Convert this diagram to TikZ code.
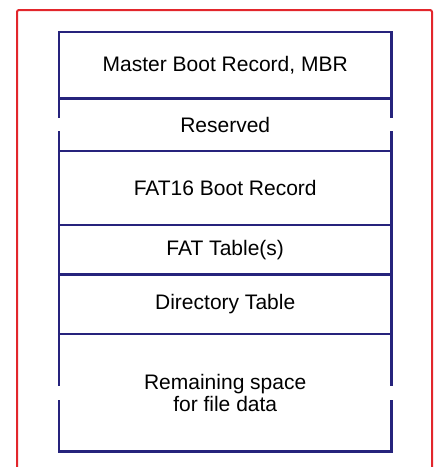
\documentclass[tikz,border=0pt]{standalone}
\usepackage{fontspec}
\setmainfont{Liberation Sans}
\usetikzlibrary{positioning}
\definecolor{frameRed}{HTML}{E2262C}
\definecolor{boxBlue}{HTML}{26237C}

\begin{document}
\begin{tikzpicture}[x=1pt,y=1pt,
  part/.style={minimum width=332pt,inner sep=0pt,align=center,font=\fontsize{21}{22}\selectfont},
  rule/.style={boxBlue,line width=2.4pt,line cap=rect}]
  \useasboundingbox (0,0) rectangle (437,-467);
  % outer frame, open at the bottom
  \draw[frameRed,line width=2pt,rounded corners=2pt] (17,-467) -- (17,-10) -- (432,-10) -- (432,-467);
  \node[part,minimum height=66pt,anchor=north west] (mbr) at (59,-32) {Master Boot Record, MBR};
  \node[part,minimum height=52pt,below=0pt of mbr] (res) {Reserved};
  \node[part,minimum height=74pt,below=0pt of res] (boot) {FAT16 Boot Record};
  \node[part,minimum height=49pt,below=0pt of boot] (fat) {FAT Table(s)};
  \node[part,minimum height=59pt,below=0pt of fat] (dir) {Directory Table};
  \node[part,minimum height=117pt,below=0pt of dir] (rest) {Remaining space\\for file data};
  % separators
  \draw[rule] (mbr.north west) -- (mbr.north east);
  \foreach \n in {mbr,res,boot,fat,dir,rest}
    \draw[rule] (\n.south west) -- (\n.south east);
  % sides, broken where the size varies
  \foreach \n in {mbr,boot,fat,dir}
    \draw[rule] (\n.north west) -- (\n.south west) (\n.north east) -- (\n.south east);
  \foreach \n in {res,rest}
    \draw[rule] (\n.north west) -- ([yshift=8pt]\n.west) ([yshift=-8pt]\n.west) -- (\n.south west)
                (\n.north east) -- ([yshift=8pt]\n.east) ([yshift=-8pt]\n.east) -- (\n.south east);
\end{tikzpicture}
\end{document}
